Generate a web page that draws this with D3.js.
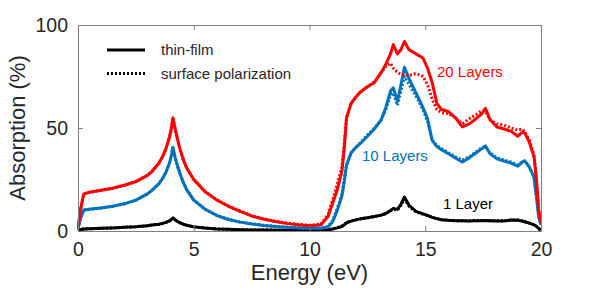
<!DOCTYPE html>
<html lang="en">
  <head>
    <meta charset='UTF-8'>
    <title>Absorption vs Energy</title>
    <script src="https://d3js.org/d3.v7.min.js"></script>
    <style>
      body { margin: 0; background: #fff; }
      text { font-family: "Liberation Sans", Arial, sans-serif; fill: #262626; }
    </style>
  </head>
  <body>
    <svg id="chart" width="598" height="295"></svg>
    <script>
    // energy grid (eV)
    var energy = [0, 0.1, 0.25, 0.5, 1, 1.5, 2, 2.5, 3, 3.2, 3.5, 3.65, 3.8, 3.95, 4.0, 4.05, 4.1, 4.15, 4.2, 4.3,
      4.4, 4.55, 4.7, 5, 5.5, 6, 6.5,
      7, 7.5, 8, 8.5, 9, 9.5, 10, 10.5, 10.8, 11, 11.2, 11.4, 11.5, 11.6, 11.8, 12, 12.2, 12.5, 12.8, 13.1,
      13.3, 13.5, 13.62, 13.8, 13.95, 14.1, 14.3, 14.6, 14.9, 15.1, 15.3, 15.5, 15.7, 16, 16.3, 16.6, 16.9, 17.2,
      17.45, 17.6, 17.8, 18.1, 18.4, 18.7, 19.0, 19.2, 19.3, 19.5, 19.7, 19.8, 19.9, 20];

    // absorption (%) - thin-film model
    var film20 = [1, 10, 18, 18.8, 19.8, 20.8, 22.2, 24, 27, 29, 33, 36, 40, 45.5, 48, 51, 55, 52, 49.5, 44.5,
      40, 34.5, 30.5, 25, 19, 15, 12,
      9.5, 7.3, 5.8, 4.6, 3.7, 3.0, 2.6, 3, 7, 13.5, 20, 29, 40, 55, 62, 65, 67.5, 70, 72, 77,
      81, 86, 90.5, 86, 88, 92, 88, 86, 84, 79, 72, 62, 59, 58, 55, 50.5, 52, 54.5,
      57, 59.5, 54, 50.5, 49.5, 48.5, 46, 48, 47.5, 43, 36, 25, 10, 4];
    var film10 = [1, 6, 10.2, 10.6, 11.2, 12, 13.2, 15, 18, 19.8, 23, 25.5, 28.5, 33, 35, 37.5, 40.5, 38, 35.5, 31.5,
      28, 23.5, 20, 15, 10.5, 7.5, 5.6,
      4.3, 3.4, 2.7, 2.2, 1.8, 1.5, 1.3, 1.3, 2, 4.5, 10, 17, 24, 32, 38, 40.5, 42.5, 46, 49.5, 54,
      60, 68, 69.5, 63, 71, 79.5, 74, 67, 60, 54.5, 44, 41, 39.5, 37.5, 35.5, 33.5, 35.5, 38,
      40, 41.3, 37.5, 35, 34, 33, 31.5, 33.5, 34, 31, 26, 17, 7, 3];
    var film1 = [0.3, 0.7, 1, 1.1, 1.3, 1.5, 1.8, 2.1, 2.6, 2.9, 3.3, 3.7, 4.2, 4.9, 5.3, 5.8, 6.3, 5.9, 5.4, 4.6,
      4, 3.3, 2.8, 2, 1.4, 1, 0.8,
      0.6, 0.5, 0.5, 0.4, 0.4, 0.4, 0.4, 0.4, 0.5, 1, 1.5, 2.2, 3, 4, 4.8, 5.4, 5.9, 6.4, 7, 7.7,
      8.5, 10, 11, 10.5, 13, 16.5, 12.5, 9.5, 8.3, 7.6, 6.6, 6, 5.5, 5.2, 5, 5, 4.9, 5,
      5, 5.1, 5, 4.9, 4.9, 5.3, 5.2, 4.8, 4.5, 3.8, 3, 2.3, 1.2, 0.3];

    // absorption (%) - surface polarization model
    var surf20 = [1, 10, 18, 18.8, 19.8, 20.8, 22.2, 24, 27, 29, 33, 36, 40, 45.5, 48, 51, 55, 52, 49.5, 44.5,
      40, 34.5, 30.5, 25, 19, 15.2, 12.2,
      9.7, 7.5, 6, 4.8, 3.9, 3.2, 2.8, 3.4, 8, 15, 23, 31, 42, 55, 62, 65, 67.5, 70, 72.5, 77,
      80, 81.5, 79, 77, 76, 76, 75.5, 76.5, 75, 71, 64, 59, 57.5, 57, 55, 52, 54.5, 56.5,
      58.5, 58, 54, 52, 51.5, 50, 49, 49.5, 48, 44, 37, 26, 10, 4];
    var surf10 = [1, 6, 10.2, 10.6, 11.2, 12, 13.2, 15, 18, 19.8, 23, 25.5, 28.5, 33, 35, 37.5, 40.5, 38, 35.5, 31.5,
      28, 23.5, 20, 15, 10.5, 7.6, 5.7,
      4.4, 3.5, 2.8, 2.3, 1.9, 1.6, 1.4, 1.4, 2.2, 5, 11, 18, 25, 32, 38, 40.5, 43, 46.5, 50, 54,
      59, 66, 67, 61, 68, 75, 71, 65.5, 59, 53, 44, 41.5, 40, 38, 36, 34.5, 36, 38.5,
      40.5, 41, 38, 35.5, 34.5, 33.5, 32, 33.5, 34, 31, 26, 17, 7, 3];
    var surf1 = [0.3, 0.7, 1, 1.1, 1.3, 1.5, 1.8, 2.1, 2.6, 2.9, 3.3, 3.7, 4.2, 4.9, 5.3, 5.8, 6.3, 5.9, 5.4, 4.6,
      4, 3.3, 2.8, 2, 1.4, 1, 0.8,
      0.6, 0.5, 0.5, 0.4, 0.4, 0.4, 0.4, 0.4, 0.5, 1, 1.6, 2.4, 3.2, 4, 4.8, 5.4, 5.9, 6.4, 7, 7.7,
      8.5, 9.8, 10.5, 10.2, 12.5, 15.5, 12, 9.3, 8.2, 7.5, 6.6, 6, 5.5, 5.2, 5, 5, 5, 5.1,
      5.1, 5.1, 5, 5, 5, 5.4, 5.3, 4.9, 4.5, 3.8, 3, 2.3, 1.2, 0.3];

    var xTicks = [0, 5, 10, 15, 20];
    var yTicks = [0, 50, 100];
    var legendLabels = ["thin-film", "surface polarization"];
    var layerLabels = ["20 Layers", "10 Layers", "1 Layer"];

    var svg = d3.select("#chart");
    var margin = {left: 78, top: 25, right: 57, bottom: 64};
    var w = 598 - margin.left - margin.right;
    var h = 295 - margin.top - margin.bottom;
    var axisColor = "#808080";

    var xs = d3.scaleLinear().domain([0, 20]).range([0, w]);
    var ys = d3.scaleLinear().domain([0, 100]).range([h, 0]);

    var g = svg.append("g").attr("transform", "translate(" + margin.left + "," + margin.top + ")");

    g.append("defs").append("clipPath").attr("id", "clip")
      .append("rect").attr("x", -1).attr("y", -1).attr("width", w + 2).attr("height", h + 2);

    var line = d3.line()
      .x(function(d) { return xs(d[0]); })
      .y(function(d) { return ys(d[1]); });

    function pairs(vals) { return energy.map(function(e, i) { return [e, vals[i]]; }); }

    var series = [
      {vals: surf1, color: "#000000", dash: "2,2"},
      {vals: film1, color: "#000000", dash: null},
      {vals: surf10, color: "#0072BD", dash: "2,2"},
      {vals: film10, color: "#0072BD", dash: null},
      {vals: surf20, color: "#FF0000", dash: "2,2"},
      {vals: film20, color: "#FF0000", dash: null}
    ];

    var plot = g.append("g").attr("clip-path", "url(#clip)");
    series.forEach(function(s) {
      plot.append("path")
        .attr("d", line(pairs(s.vals)))
        .attr("fill", "none")
        .attr("stroke", s.color)
        .attr("stroke-width", 3)
        .attr("stroke-linejoin", "round")
        .attr("stroke-dasharray", s.dash);
    });

    // box axes
    var xb = g.append("g").attr("transform", "translate(0," + h + ")")
      .call(d3.axisBottom(xs).tickValues(xTicks).tickSizeInner(-5).tickSizeOuter(0).tickPadding(11));
    var xt = g.append("g")
      .call(d3.axisTop(xs).tickValues(xTicks).tickSizeInner(-5).tickSizeOuter(0).tickFormat(""));
    var yl = g.append("g")
      .call(d3.axisLeft(ys).tickValues(yTicks).tickSizeInner(-5).tickSizeOuter(0).tickPadding(10));
    var yr = g.append("g").attr("transform", "translate(" + w + ",0)")
      .call(d3.axisRight(ys).tickValues(yTicks).tickSizeInner(-5).tickSizeOuter(0).tickFormat(""));

    [xb, xt, yl, yr].forEach(function(a) {
      a.select(".domain").attr("stroke", axisColor);
      a.selectAll(".tick line").attr("stroke", axisColor);
      a.selectAll(".tick text").attr("font-size", 19.5).attr("fill", "#262626")
        .style("font-family", "'Liberation Sans', Arial, sans-serif");
    });

    // axis titles
    svg.append("text")
      .attr("x", margin.left + w / 2)
      .attr("y", 280)
      .attr("text-anchor", "middle")
      .attr("font-size", 22)
      .text("Energy (eV)");

    svg.append("text")
      .attr("transform", "translate(25," + (margin.top + h / 2) + ") rotate(-90)")
      .attr("text-anchor", "middle")
      .attr("font-size", 22)
      .text("Absorption (%)");

    // legend
    var leg = g.append("g");
    [null, "2,2"].forEach(function(dash, i) {
      leg.append("line")
        .attr("x1", 29).attr("x2", 67)
        .attr("y1", 25 + i * 23.5).attr("y2", 25 + i * 23.5)
        .attr("stroke", "#000").attr("stroke-width", 3)
        .attr("stroke-dasharray", dash);
      leg.append("text")
        .attr("x", 83).attr("y", 30 + i * 23.5)
        .attr("font-size", 15)
        .text(legendLabels[i]);
    });

    // series labels
    var labelPos = [[359, 52, "#FF0000"], [284, 136, "#0072BD"], [365, 184, "#000000"]];
    labelPos.forEach(function(p, i) {
      g.append("text")
        .attr("x", p[0]).attr("y", p[1])
        .attr("font-size", 15)
        .style("fill", p[2])
        .text(layerLabels[i]);
    });
    </script>
  </body>
</html>
